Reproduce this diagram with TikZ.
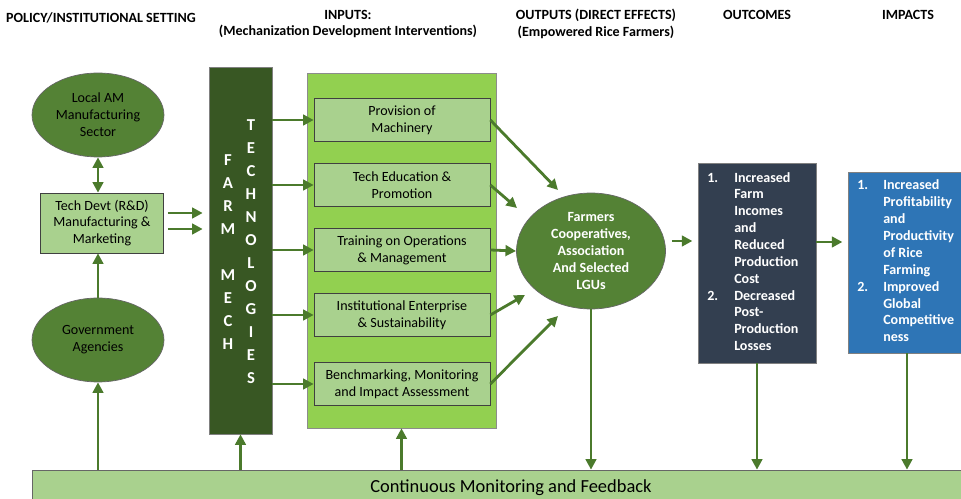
\documentclass[tikz,border=0pt]{standalone}
\usepackage{fontspec}
\setmainfont{Carlito}
\usetikzlibrary{shapes.geometric,arrows.meta}
\definecolor{leafgreen}{HTML}{548235}
\definecolor{darkleaf}{HTML}{385723}
\definecolor{palegreen}{HTML}{A9D18E}
\definecolor{limegreen}{HTML}{92D050}
\definecolor{arrowgreen}{HTML}{4B7A2C}
\definecolor{slatebox}{HTML}{333F50}
\definecolor{bluebox}{HTML}{2E75B6}
\tikzset{
  head/.style={font=\bfseries\fontsize{8}{9.6}\selectfont, align=center},
  orb/.style={ellipse, draw=black!60, fill=leafgreen, inner sep=0pt, align=center,
    minimum width=2.64cm, minimum height=1.68cm, font=\fontsize{8}{9.6}\selectfont},
  lightbox/.style={draw=black!75, fill=palegreen, align=center, inner sep=0pt,
    font=\fontsize{8}{9.6}\selectfont},
  inbox/.style={lightbox, minimum width=3.52cm, minimum height=0.86cm},
  link/.style={->, draw=arrowgreen, line width=1.6pt},
  letter/.style={text=white, inner sep=0pt, font=\bfseries\fontsize{9.5}{11}\selectfont},
  result/.style={draw=black!50, text=white, inner sep=0pt, font=\bfseries\fontsize{8}{9.6}\selectfont},
}
\begin{document}
\begin{tikzpicture}[>={Stealth[length=6pt,width=6pt,inset=0pt]}, x=0.02cm, y=-0.02cm]
\path[use as bounding box, clip] (0,0) rectangle (961,499);
\node[head] (hpol) at (101,18) {POLICY/INSTITUTIONAL SETTING};
\node[head] (hin) at (348,24) {INPUTS:\\(Mechanization Development Interventions)};
\node[head] (hout) at (596,24) {OUTPUTS (DIRECT EFFECTS)\\(Empowered Rice Farmers)};
\node[head] (hoc) at (757,15) {OUTCOMES};
\node[head] (himp) at (908,15) {IMPACTS};

\node[orb] (local) at (98,115) {Local AM\\Manufacturing\\Sector};
\node[lightbox, minimum width=2.46cm, minimum height=1.2cm] (rnd) at (102,223) {Tech Devt (R\&D)\\Manufacturing \&\\Marketing};
\node[orb] (gov) at (98,340) {Government\\Agencies};

\node[draw=black!50, fill=darkleaf, inner sep=0pt, minimum width=1.26cm, minimum height=7.34cm] (mech) at (240.5,250.5) {};
\foreach \l [count=\i] in {F,A,R,M,{},M,E,C,H}
  \node[letter] (fm\i) at (228,137+23*\i) {\l};
\foreach \l [count=\i] in {T,E,C,H,N,O,L,O,G,I,E,S}
  \node[letter] (tc\i) at (251,102+23*\i) {\l};

\node[draw=black!45, fill=limegreen, inner sep=0pt, minimum width=3.78cm, minimum height=7.1cm] (inputs) at (401.5,250.5) {};
\node[inbox] (prov) at (402,120) {Provision of\\Machinery};
\node[inbox] (edu) at (402,185) {Tech Education \&\\Promotion};
\node[inbox] (train) at (402,250) {Training on Operations\\\& Management};
\node[inbox] (inst) at (402,315) {Institutional Enterprise\\\& Sustainability};
\node[inbox] (bench) at (402,384) {Benchmarking, Monitoring\\and Impact Assessment};

\node[ellipse, draw=black!60, fill=leafgreen, inner sep=0pt, minimum width=2.98cm, minimum height=2.32cm,
  align=center, text=white, font=\bfseries\fontsize{8}{9.6}\selectfont] (farmers) at (591,251)
  {Farmers\\Cooperatives,\\Association\\And Selected\\LGUs};

\node[result, fill=slatebox, minimum width=2.36cm, minimum height=4cm] (outcomes) at (757,263)
  {\begin{tabular}{@{}p{0.54cm}@{}p{1.45cm}@{}}
  1. & Increased\\ & Farm\\ & Incomes\\ & and\\ & Reduced\\ & Production\\ & Cost\\
  2. & Decreased\\ & Post-\\ & Production\\ & Losses
  \end{tabular}};
\node[result, fill=bluebox, minimum width=2.44cm, minimum height=3.62cm] (impacts) at (909,262.5)
  {\begin{tabular}{@{}p{0.52cm}@{}p{1.55cm}@{}}
  1. & Increased\\ & Profitability\\ & and\\ & Productivity\\ & of Rice\\ & Farming\\
  2. & Improved\\ & Global\\ & Competitive\\ & ness
  \end{tabular}};

\node[draw=black!60, fill=palegreen, inner sep=0pt, minimum width=19.16cm, minimum height=0.72cm,
  font=\fontsize{10.5}{12}\selectfont] (bar) at (511,488) {Continuous Monitoring and Feedback};

\draw[link, <->] (local.south) -- (local.south |- rnd.north);
\draw[link] (gov.north) -- (gov.north |- rnd.south);
\draw[link] ([shift={(4,-10)}]rnd.east) -- ([shift={(-6,-10)}]mech.west |- rnd.east);
\draw[link] ([shift={(4,6)}]rnd.east) -- ([shift={(-6,6)}]mech.west |- rnd.east);
\foreach \b in {prov,edu,train,inst,bench}
  \draw[link] (mech.east |- \b.west) -- (\b.west);
\draw[link] (prov.east) -- ([shift={(-33,-61)}]farmers.center);
\draw[link] (edu.east) -- ([shift={(-74,-43)}]farmers.center);
\draw[link] (train.east) -- ([shift={(-75,0)}]farmers.center);
\draw[link] (inst.east) -- ([shift={(-66,44)}]farmers.center);
\draw[link] (bench.east) -- ([shift={(-33,65)}]farmers.center);
\coordinate (fo) at ([shift={(6,-10)}]farmers.east);
\draw[link, shorten >=3pt] (fo) -- (fo -| outcomes.west);
\coordinate (oi) at ([shift={(0,-21)}]outcomes.east);
\draw[link, shorten >=3pt] (oi) -- (oi -| impacts.west);

\draw[link] (gov.south |- bar.north) -- (gov.south);
\draw[link] (mech.south |- bar.north) -- (mech.south);
\draw[link] (inputs.south |- bar.north) -- (inputs.south);
\draw[link] (farmers.south) -- (farmers.south |- bar.north);
\draw[link] (outcomes.south) -- (outcomes.south |- bar.north);
\draw[link] ([xshift=-0.04cm]impacts.south) -- ([xshift=-0.04cm]impacts.south |- bar.north);
\end{tikzpicture}
\end{document}
